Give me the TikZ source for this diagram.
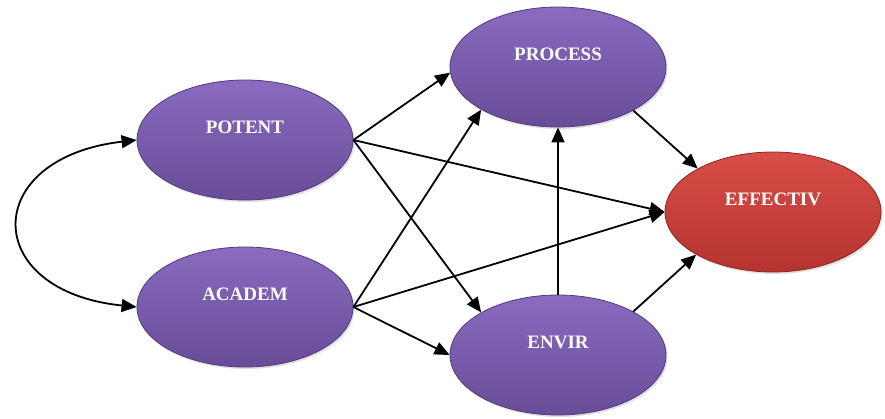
\documentclass[tikz,border=0pt]{standalone}
\usepackage{fontspec}
\setmainfont{Liberation Serif}
\usetikzlibrary{shapes.geometric,arrows.meta,shadows}
\definecolor{purpTop}{HTML}{8A6BC0}
\definecolor{purpBot}{HTML}{684C97}
\definecolor{purpEdge}{HTML}{54397E}
\definecolor{redTop}{HTML}{D84E48}
\definecolor{redBot}{HTML}{B5332F}
\definecolor{redEdge}{HTML}{8E2422}
\tikzset{
  oval/.style={ellipse, minimum width=216pt, minimum height=120pt, inner sep=0pt,
    draw=purpEdge, line width=0.8pt, top color=purpTop, bottom color=purpBot,
    drop shadow={shadow xshift=1.5pt, shadow yshift=-2pt, opacity=0.25}},
  redoval/.style={oval, draw=redEdge, top color=redTop, bottom color=redBot},
  lbl/.style={text=white, font=\fontsize{19}{22}\selectfont\bfseries, yshift=13pt},
  conn/.style={line width=1.8pt, -{Triangle[length=15pt,width=13pt]}},
  bicon/.style={line width=1.8pt, {Triangle[length=15pt,width=13pt]}-{Triangle[length=15pt,width=13pt]}}
}
\begin{document}
\begin{tikzpicture}[x=1pt,y=-1pt]
\useasboundingbox (0,0) rectangle (885,418);
\node[oval, label={[lbl]center:POTENT}] (pot) at (245,140) {};
\node[oval, label={[lbl]center:ACADEM}] (aca) at (245,307) {};
\node[oval, label={[lbl]center:PROCESS}] (proc) at (558,67) {};
\node[oval, label={[lbl]center:ENVIR}] (envir) at (558,355) {};
\node[redoval, label={[lbl]center:EFFECTIV}] (eff) at (773,212) {};

\draw[bicon] (pot.west) .. controls (-20,158) and (-20,291) .. (aca.west);

\draw[conn] (pot.east) -- (proc.183);
\draw[conn] (pot.east) -- (eff.west);
\draw[conn] (pot.east) -- (envir.151);
\draw[conn] (aca.east) -- (proc.209);
\draw[conn] (aca.east) -- (eff.west);
\draw[conn] (aca.east) -- (envir.west);
\draw[conn] (envir.north) -- (proc.south);
\draw[conn] (proc.-30) -- (eff.150);
\draw[conn] (envir.30) -- (eff.209);
\end{tikzpicture}
\end{document}
